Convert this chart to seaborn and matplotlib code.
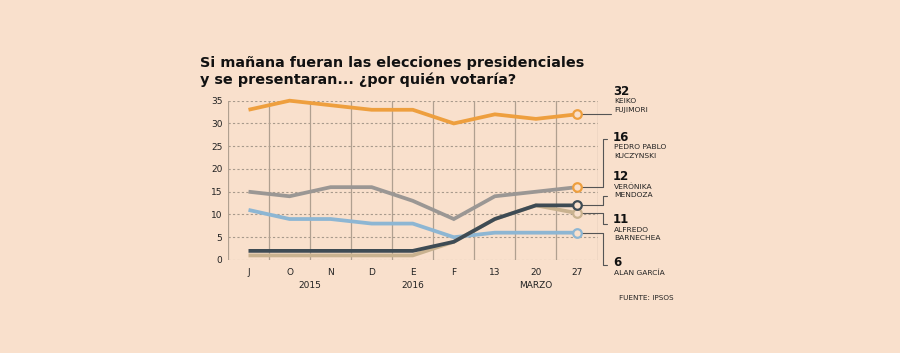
import numpy as np
import pandas as pd
import matplotlib
matplotlib.use('Agg')
import matplotlib.pyplot as plt
import seaborn as sns

# datos
periodos = ['J', 'O', 'N', 'D', 'E', 'F', '13', '20', '27']
keiko = [33, 35, 34, 33, 33, 30, 32, 31, 32]
ppk = [15, 14, 16, 16, 13, 9, 14, 15, 16]
garcia = [11, 9, 9, 8, 8, 5, 6, 6, 6]
barnechea = [1, 1, 1, 1, 1, 4, 9, 12, 10.3]
mendoza = [2, 2, 2, 2, 2, 4, 9, 12, 12]
yticks = [0, 5, 10, 15, 20, 25, 30, 35]
grupos = ['2015', '2016', 'MARZO']
etiquetas = ['32', '16', '12', '11', '6']
nombres = ['KEIKO\nFUJIMORI', 'PEDRO PABLO\nKUCZYNSKI', 'VERÓNIKA\nMENDOZA',
           'ALFREDO\nBARNECHEA', 'ALAN GARCÍA']

series = {'Keiko': keiko, 'PPK': ppk, 'Garcia': garcia,
          'Barnechea': barnechea, 'Mendoza': mendoza}
colores = {'Keiko': '#EE9F3E', 'PPK': '#9B9794', 'Garcia': '#8DB6D3',
           'Barnechea': '#C9B28F', 'Mendoza': '#3E4B54'}
# el marcador final de PPK sale naranja en el original
borde_marcador = {'Keiko': '#EE9F3E', 'PPK': '#EE9F3E', 'Garcia': '#8DB6D3',
                  'Barnechea': '#C9B28F', 'Mendoza': '#3E4B54'}

df = pd.DataFrame([{'x': i, 'candidato': k, 'valor': v}
                   for k, vals in series.items() for i, v in enumerate(vals)])

fondo = '#F9E0CC'
sns.set_style('white')
plt.rcParams['font.family'] = ['DejaVu Sans']

fig = plt.figure(figsize=(9, 3.53), dpi=100, facecolor=fondo)
ax = fig.add_axes([0.2533, 0.2635, 0.4106, 0.4513])
ax.set_facecolor(fondo)

sns.lineplot(data=df, x='x', y='valor', hue='candidato', hue_order=list(series.keys()),
             palette=colores, linewidth=2.7, legend=False, ax=ax, clip_on=False,
             solid_capstyle='butt', solid_joinstyle='miter')

for k, vals in series.items():
    ax.scatter([len(vals) - 1], [vals[-1]], s=38, facecolor=fondo,
               edgecolor=borde_marcador[k], linewidth=1.6, zorder=5, clip_on=False)

ax.set_xlim(-0.5, len(periodos) - 0.5)
ax.set_ylim(0, 35)
ax.set_xticks(range(len(periodos)))
ax.set_xticklabels(periodos)
ax.set_yticks(yticks)
ax.set_xlabel('')
ax.set_ylabel('')
ax.tick_params(axis='both', length=0, labelsize=6.5, colors='#222222', pad=4)
ax.tick_params(axis='x', pad=6)

for y in yticks:
    ax.axhline(y, color='#A89A8C', lw=0.8, ls=(0, (2, 2)), zorder=0)
for xv in np.arange(-0.5, len(periodos), 1.0):
    ax.axvline(xv, color='#B0A090', lw=0.9, zorder=0)
for s in ax.spines.values():
    s.set_visible(False)

# grupos de meses
for xg, g in zip([1.5, 4, 7], grupos):
    ax.text(xg, -5.6, g, ha='center', va='center', fontsize=6.5, color='#222222')

# etiquetas a la derecha con conectores
fin = [keiko[-1], ppk[-1], mendoza[-1], barnechea[-1], garcia[-1]]
quiebre = [None, 26.5, 14.0, 7.9, -1.1]
num_y = [37.0, 26.9, 18.4, 8.8, -0.5]
x_lab = 8.88
for v, q, ny, et, nom in zip(fin, quiebre, num_y, etiquetas, nombres):
    if q is None:
        ax.plot([8.1, 8.82], [v, v], color='#555555', lw=0.8, clip_on=False)
    else:
        ax.plot([8.1, 8.63, 8.63, 8.74], [v, v, q, q], color='#555555', lw=0.8,
                clip_on=False)
    ax.text(x_lab, ny, et, fontsize=8.5, fontweight='bold', ha='left', va='center',
            color='#111111')
    ax.text(x_lab + 0.03, ny - 1.5, nom, fontsize=5.4, ha='left', va='top',
            color='#222222', linespacing=1.45)

fig.text(0.688, 0.155, 'FUENTE: IPSOS', fontsize=5.2, ha='left', va='center', color='#222222')

fig.text(0.222, 0.797, 'Si mañana fueran las elecciones presidenciales\ny se presentaran... ¿por quién votaría?',
         fontsize=10.4, fontweight='bold', ha='left', va='center', color='#111111',
         linespacing=1.2)

fig.savefig('out.png', dpi=100, facecolor=fondo)
